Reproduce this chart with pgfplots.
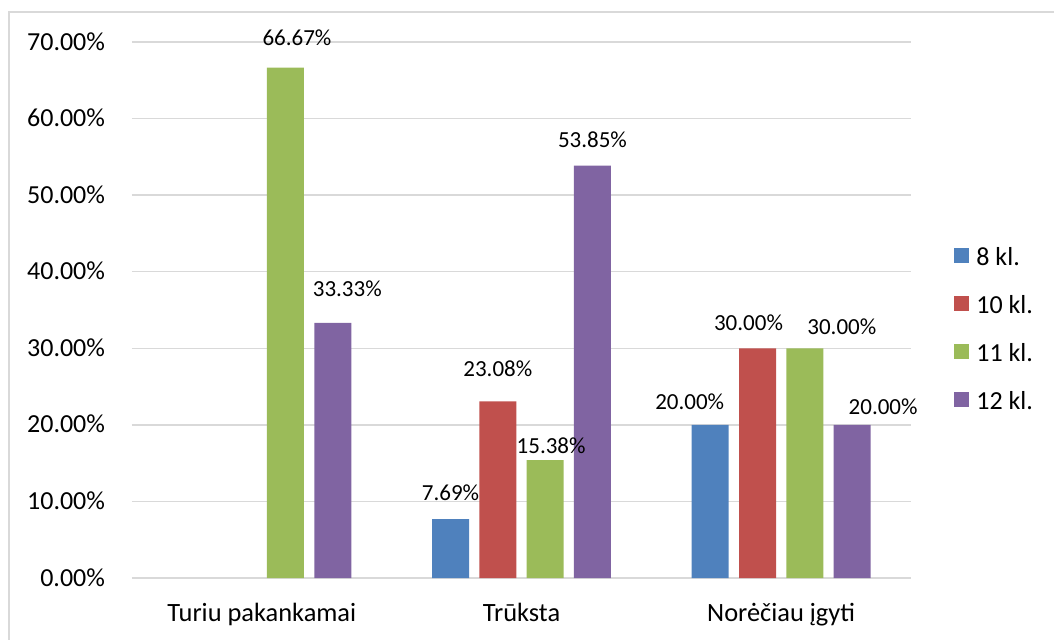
\documentclass[border=0pt]{standalone}
\usepackage{fontspec}
\setmainfont{Carlito}
\usepackage{pgfplots}
\usepackage{pgfplotstable}
\pgfplotsset{compat=1.18}
\definecolor{c8}{HTML}{4F81BD}
\definecolor{c10}{HTML}{C0504D}
\definecolor{c11}{HTML}{9BBB59}
\definecolor{c12}{HTML}{8064A2}
\definecolor{gridc}{HTML}{D9D9D9}
% x = category index, y = value (%), dx/dy = label offsets (pt)
\pgfplotstableread{
x y dx dy
1 7.69 0 9.15
2 20.00 -10.25 7.5
}\tabA
\pgfplotstableread{
x y dx dy
1 23.08 0 12.2
2 30.00 -4.5 8.8
}\tabB
\pgfplotstableread{
x y dx dy
0 66.67 5.75 10.85
1 15.38 3 3.15
2 30.00 18.5 6.65
}\tabC
\pgfplotstableread{
x y dx dy
0 33.33 7.25 13.35
1 53.85 0 9.15
2 20.00 15.5 5
}\tabD
\begin{document}
\begin{tikzpicture}
\begin{axis}[
  at={(0,0)}, anchor=south west,
  scale only axis, width=389.5pt, height=268pt,
  ybar=5.15pt, bar width=18.5pt,
  xmin=-0.5, xmax=2.5, ymin=0, ymax=70,
  xtick={0,1,2},
  xticklabels={Turiu pakankamai, Trūksta, Norėčiau įgyti},
  ytick={0,10,...,70},
  yticklabel={\pgfmathprintnumber[fixed,fixed zerofill,precision=2]{\tick}\%},
  /pgf/number format/assume math mode=true,
  axis line style={draw=none},
  major tick length=0pt, tick style={draw=none},
  ymajorgrids, grid style={color=gridc, line width=0.75pt},
  xticklabel style={font=\fontsize{13.2}{15}\selectfont, anchor=base, yshift=-21.8pt, inner sep=0pt},
  yticklabel style={font=\fontsize{13}{15}\selectfont, anchor=base east, inner sep=0pt, xshift=-13.3pt, yshift=-4pt},
  point meta=y,
  visualization depends on={\thisrow{dx}\as\labdx},
  visualization depends on={\thisrow{dy}\as\labdy},
  nodes near coords={\pgfmathprintnumber[fixed,fixed zerofill,precision=2]{\pgfplotspointmeta}\%},
  nodes near coords style={font=\fontsize{11.5}{13}\selectfont, anchor=base, xshift=\labdx pt, yshift=\labdy pt, inner sep=0pt, text=black},
  legend style={at={(1.0552,0.618)}, anchor=north west, draw=none, fill=none, inner sep=0pt,
    row sep=15pt, column sep=3.5pt, font=\fontsize{13}{15}\selectfont,
    nodes={inner sep=0pt, text height=9pt, text depth=0pt}},
  legend cell align=left,
  legend image code/.code={\fill[#1] (0pt,-3.25pt) rectangle (7.5pt,4.25pt);},
  clip=false,
]
\addplot[fill=c8, draw=none] table[x=x, y=y] {\tabA};
\addplot[fill=c10, draw=none] table[x=x, y=y] {\tabB};
\addplot[fill=c11, draw=none] table[x=x, y=y] {\tabC};
\addplot[fill=c12, draw=none] table[x=x, y=y] {\tabD};
\legend{8 kl., 10 kl., 11 kl., 12 kl.}
\end{axis}
\draw[gridc, line width=0.75pt] (-61.5pt,-40pt) -- (-61.5pt,283pt) -- (470pt,283pt);
\pgfresetboundingbox
\useasboundingbox (-66pt,-30.5pt) rectangle (461pt,289pt);
\end{tikzpicture}
\end{document}
